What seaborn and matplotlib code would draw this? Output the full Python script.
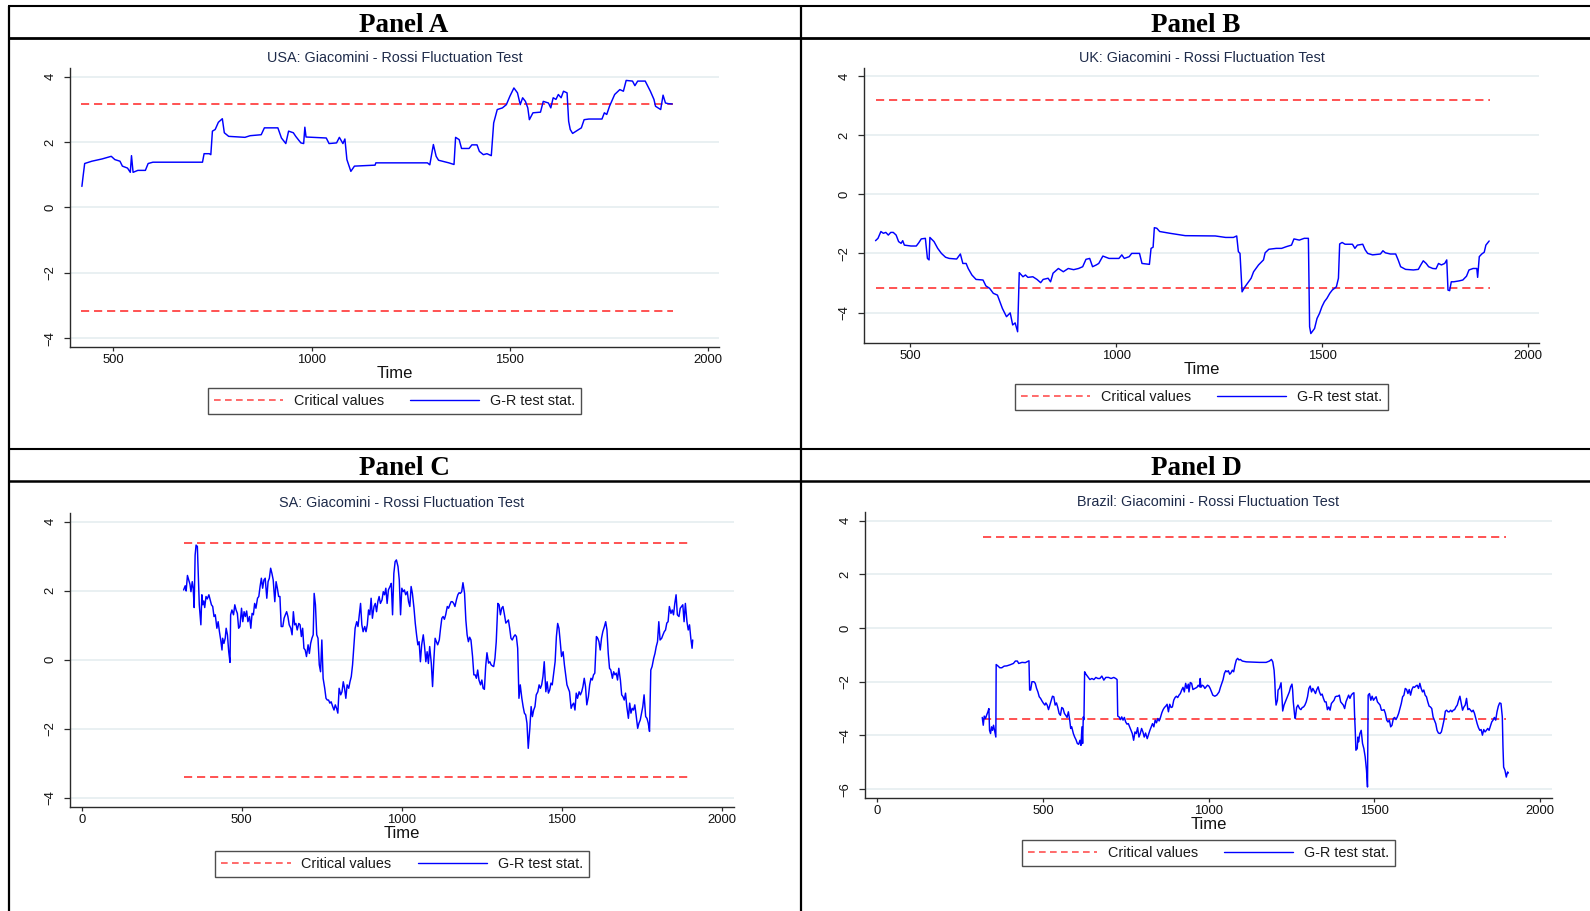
import matplotlib
matplotlib.use("Agg")
import matplotlib.pyplot as plt
from matplotlib.lines import Line2D
import pandas as pd
import seaborn as sns

# ---------------------------------------------------------------------------
# Giacomini-Rossi fluctuation test statistics (time index, statistic)
# ---------------------------------------------------------------------------
usa_path = [(421, 0.64), (424, 0.95), (428, 1.34), (446, 1.41), (472, 1.48), (495, 1.56), (504, 1.46),
            (517, 1.41), (523, 1.26), (536, 1.20), (543, 1.07), (546, 1.58), (550, 1.07), (562, 1.13),
            (581, 1.13), (588, 1.34), (600, 1.38), (725, 1.38), (729, 1.64), (742, 1.64), (746, 1.61),
            (750, 2.33), (757, 2.38), (765, 2.60), (775, 2.71), (780, 2.28), (791, 2.17), (832, 2.14),
            (845, 2.19), (873, 2.22), (881, 2.43), (915, 2.43), (924, 2.12), (935, 1.95), (942, 2.33),
            (954, 2.28), (960, 2.17), (973, 1.97), (980, 1.95), (983, 2.45), (986, 2.15), (1037, 2.12),
            (1044, 1.95), (1063, 1.97), (1070, 2.14), (1079, 1.95), (1084, 2.09), (1089, 1.46), (1099, 1.10),
            (1108, 1.26), (1160, 1.29), (1162, 1.36), (1292, 1.36), (1298, 1.30), (1307, 1.92), (1314, 1.56),
            (1320, 1.44), (1346, 1.36), (1359, 1.31), (1363, 2.14), (1372, 2.07), (1378, 1.80), (1397, 1.80),
            (1404, 1.91), (1417, 1.91), (1423, 1.71), (1433, 1.61), (1442, 1.64), (1453, 1.58), (1459, 2.58),
            (1468, 2.99), (1481, 3.04), (1491, 3.14), (1500, 3.40), (1510, 3.65), (1519, 3.50), (1526, 3.14),
            (1532, 3.35), (1539, 3.24), (1545, 3.04), (1549, 2.68), (1558, 2.89), (1577, 2.91), (1584, 3.24),
            (1597, 3.19), (1603, 3.04), (1609, 3.35), (1616, 3.30), (1622, 3.45), (1629, 3.35), (1635, 3.55),
            (1644, 3.50), (1648, 2.63), (1652, 2.38), (1658, 2.26), (1667, 2.33), (1680, 2.43), (1687, 2.68),
            (1699, 2.70), (1732, 2.70), (1738, 2.89), (1744, 2.84), (1751, 3.09), (1764, 3.45), (1777, 3.60),
            (1786, 3.55), (1793, 3.88), (1809, 3.86), (1815, 3.72), (1822, 3.86), (1841, 3.86), (1854, 3.55),
            (1863, 3.30), (1867, 3.09), (1880, 2.99), (1886, 3.43), (1892, 3.19), (1899, 3.17), (1909, 3.16)]

uk_path = [(416, -1.57), (422, -1.49), (429, -1.26), (435, -1.32), (441, -1.29), (447, -1.38), (453, -1.29),
           (459, -1.29), (466, -1.38), (472, -1.60), (478, -1.66), (482, -1.57), (486, -1.72), (502, -1.75),
           (515, -1.75), (521, -1.64), (527, -1.51), (537, -1.49), (542, -2.17), (546, -2.22), (548, -1.46),
           (558, -1.60), (567, -1.83), (576, -2.00), (586, -2.13), (595, -2.17), (613, -2.19), (622, -2.02),
           (628, -2.34), (636, -2.34), (641, -2.51), (650, -2.73), (660, -2.88), (677, -2.90), (684, -3.10),
           (693, -3.18), (702, -3.35), (712, -3.41), (718, -3.63), (724, -3.86), (734, -4.14), (743, -4.01),
           (749, -4.42), (755, -4.35), (761, -4.65), (765, -2.65), (774, -2.79), (780, -2.73), (786, -2.81),
           (798, -2.79), (808, -2.88), (817, -2.99), (823, -2.88), (835, -2.84), (841, -2.96), (847, -2.67),
           (860, -2.51), (872, -2.62), (884, -2.51), (897, -2.55), (909, -2.51), (919, -2.45), (927, -2.20),
           (936, -2.17), (943, -2.45), (952, -2.39), (958, -2.34), (968, -2.09), (983, -2.17), (1007, -2.17),
           (1014, -2.05), (1020, -2.17), (1032, -2.11), (1038, -2.00), (1057, -2.00), (1063, -2.34),
           (1081, -2.37), (1085, -1.83), (1090, -1.79), (1093, -1.13), (1099, -1.15), (1106, -1.26),
           (1131, -1.32), (1168, -1.40), (1241, -1.41), (1266, -1.46), (1285, -1.46), (1293, -1.41),
           (1297, -1.94), (1301, -2.00), (1306, -3.30), (1313, -3.13), (1328, -2.84), (1334, -2.62),
           (1346, -2.39), (1358, -2.22), (1362, -1.98), (1371, -1.86), (1389, -1.83), (1402, -1.83),
           (1414, -1.77), (1426, -1.72), (1432, -1.51), (1445, -1.55), (1457, -1.49), (1467, -1.49),
           (1470, -4.48), (1473, -4.71), (1482, -4.54), (1488, -4.20), (1494, -4.03), (1500, -3.80),
           (1506, -3.63), (1512, -3.52), (1519, -3.35), (1525, -3.24), (1535, -3.13), (1540, -2.84),
           (1543, -1.68), (1549, -1.63), (1556, -1.69), (1574, -1.69), (1580, -1.83), (1586, -1.72),
           (1599, -1.69), (1605, -1.88), (1611, -2.00), (1623, -2.05), (1642, -2.02), (1648, -1.91),
           (1654, -1.98), (1666, -2.02), (1679, -2.02), (1685, -2.22), (1691, -2.45), (1703, -2.54),
           (1722, -2.56), (1734, -2.54), (1740, -2.39), (1746, -2.25), (1753, -2.34), (1759, -2.45),
           (1769, -2.51), (1777, -2.52), (1783, -2.34), (1790, -2.39), (1798, -2.34), (1803, -2.22),
           (1806, -3.24), (1810, -3.26), (1814, -2.96), (1820, -2.96), (1833, -2.93), (1842, -2.90),
           (1851, -2.77), (1857, -2.56), (1867, -2.51), (1876, -2.51), (1878, -2.81), (1882, -2.11),
           (1888, -2.02), (1894, -1.96), (1898, -1.72), (1906, -1.58)]

sa_path = [(318, 2.02), (323, 2.14), (326, 1.99), (330, 2.44), (334, 2.31), (338, 2.18), (341, 1.97),
           (345, 2.26), (348, 2.07), (351, 1.51), (354, 3.03), (357, 3.32), (361, 3.28), (364, 2.45),
           (367, 1.59), (372, 1.01), (375, 1.88), (378, 1.59), (381, 1.70), (384, 1.51), (388, 1.83),
           (392, 1.76), (397, 1.88), (401, 1.73), (405, 1.59), (409, 1.54), (413, 1.25), (417, 1.30),
           (422, 0.91), (426, 1.10), (430, 0.81), (434, 0.57), (438, 0.28), (440, 0.62), (444, 0.47),
           (448, 0.62), (451, 0.91), (455, 0.72), (459, 0.23), (463, -0.08), (465, 1.30), (469, 1.44),
           (474, 1.30), (478, 1.59), (482, 1.44), (486, 1.34), (490, 0.91), (494, 0.96), (499, 1.49),
           (503, 1.10), (507, 1.39), (511, 1.25), (515, 1.41), (519, 1.10), (524, 1.25), (528, 0.91),
           (532, 1.34), (536, 1.30), (540, 1.63), (544, 1.49), (549, 1.78), (553, 1.83), (557, 2.12),
           (561, 2.36), (565, 2.07), (569, 2.31), (573, 2.36), (578, 1.78), (582, 2.26), (586, 2.36),
           (590, 2.65), (594, 2.50), (598, 2.31), (603, 1.68), (607, 2.26), (611, 2.07), (615, 1.83),
           (619, 1.83), (623, 0.96), (628, 0.96), (632, 1.20), (636, 1.30), (640, 1.39), (644, 1.25),
           (648, 1.01), (653, 0.91), (657, 0.72), (661, 1.39), (665, 1.01), (669, 1.05), (673, 0.86),
           (678, 1.05), (682, 1.01), (686, 0.67), (690, 0.91), (694, 0.33), (698, 0.28), (702, 0.09),
           (707, 0.43), (711, 0.18), (715, 0.47), (719, 0.62), (723, 0.72), (726, 1.92), (730, 1.59),
           (734, 0.72), (738, 0.62), (742, -0.15), (746, -0.35), (750, 0.57), (754, -0.54), (759, -0.83),
           (763, -1.12), (767, -1.17), (771, -1.17), (775, -1.26), (779, -1.22), (784, -1.36), (788, -1.46),
           (792, -1.31), (796, -1.41), (800, -1.55), (804, -0.83), (809, -1.02), (813, -0.93), (817, -0.64),
           (821, -0.83), (825, -1.12), (829, -0.73), (834, -0.83), (838, -0.64), (842, -0.49), (846, -0.15),
           (850, 0.38), (854, 0.91), (859, 1.10), (863, 0.96), (867, 1.30), (871, 1.63), (875, 1.01),
           (879, 0.81), (884, 0.96), (888, 0.81), (892, 1.01), (896, 1.44), (900, 1.30), (904, 1.78),
           (908, 1.20), (913, 1.54), (917, 1.63), (921, 1.39), (925, 1.68), (929, 1.83), (933, 1.63),
           (938, 1.73), (942, 1.97), (946, 1.88), (950, 2.07), (954, 1.63), (958, 2.02), (963, 2.12),
           (967, 2.21), (971, 1.30), (975, 2.50), (979, 2.84), (983, 2.89), (988, 2.70), (992, 2.31),
           (996, 1.30), (1000, 2.07), (1004, 1.97), (1008, 2.02), (1012, 1.88), (1017, 1.97), (1021, 1.68),
           (1025, 1.54), (1029, 2.12), (1033, 1.92), (1038, 1.49), (1042, 1.05), (1046, 0.72), (1050, 0.43),
           (1054, 0.52), (1058, -0.06), (1062, 0.43), (1067, 0.72), (1071, 0.38), (1075, -0.06), (1079, 0.23),
           (1083, -0.11), (1087, 0.38), (1092, -0.10), (1096, -0.78), (1100, -0.01), (1104, 0.62),
           (1108, 0.52), (1112, 0.43), (1117, 0.57), (1121, 0.91), (1125, 1.20), (1129, 1.25), (1133, 1.17),
           (1137, 1.30), (1142, 1.54), (1146, 1.49), (1150, 1.59), (1154, 1.68), (1158, 1.68), (1162, 1.63),
           (1166, 1.54), (1171, 1.75), (1175, 1.88), (1179, 1.94), (1183, 1.92), (1187, 1.97), (1191, 2.23),
           (1196, 1.92), (1200, 1.15), (1204, 0.72), (1208, 0.52), (1212, 0.65), (1216, 0.57), (1221, 0.09),
           (1225, -0.44), (1229, -0.44), (1233, -0.54), (1237, -0.30), (1241, -0.59), (1246, -0.73),
           (1250, -0.59), (1254, -0.83), (1258, -0.86), (1262, -0.20), (1266, 0.20), (1271, -0.10),
           (1275, -0.06), (1279, -0.15), (1283, -0.18), (1287, -0.20), (1291, 0.04), (1295, 0.52),
           (1300, 1.63), (1304, 1.59), (1308, 1.30), (1312, 1.49), (1316, 1.54), (1320, 1.34), (1325, 1.06),
           (1329, 1.10), (1333, 1.15), (1337, 0.91), (1341, 0.62), (1345, 0.57), (1350, 0.67), (1354, 0.72),
           (1358, 0.67), (1362, 0.33), (1366, -1.12), (1370, -0.73), (1375, -1.12), (1379, -1.36),
           (1383, -1.55), (1387, -1.60), (1391, -1.84), (1395, -2.57), (1400, -1.99), (1404, -1.36),
           (1408, -1.65), (1412, -1.46), (1416, -1.36), (1420, -1.02), (1425, -0.93), (1429, -0.73),
           (1433, -0.83), (1437, -0.73), (1441, -0.49), (1445, -0.06), (1450, -0.93), (1454, -0.64),
           (1458, -0.97), (1462, -0.88), (1466, -0.68), (1470, -0.73), (1474, -0.44), (1479, -0.06),
           (1483, 0.67), (1487, 1.05), (1491, 0.91), (1495, 0.52), (1499, 0.09), (1504, 0.23), (1508, -0.15),
           (1512, -0.44), (1516, -0.73), (1520, -0.83), (1524, -0.93), (1529, -1.41), (1533, -1.31),
           (1537, -1.26), (1541, -1.46), (1545, -0.97), (1549, -1.12), (1554, -0.93), (1558, -1.02),
           (1562, -0.93), (1566, -0.78), (1570, -0.54), (1574, -0.78), (1578, -1.31), (1583, -1.07),
           (1587, -0.73), (1591, -0.54), (1595, -0.59), (1599, -0.44), (1603, -0.39), (1608, 0.67),
           (1612, 0.62), (1616, 0.52), (1620, 0.28), (1624, 0.62), (1628, 0.81), (1633, 0.96), (1637, 1.10),
           (1641, 0.86), (1645, 0.18), (1649, -0.25), (1653, -0.30), (1658, -0.54), (1662, -0.35),
           (1666, -0.44), (1670, -0.39), (1674, -0.59), (1678, -0.25), (1683, -0.59), (1687, -1.02),
           (1691, -1.07), (1695, -1.17), (1699, -0.97), (1703, -1.36), (1708, -1.70), (1712, -1.26),
           (1716, -1.55), (1720, -1.41), (1724, -1.46), (1728, -1.31), (1732, -1.60), (1737, -1.99),
           (1741, -1.84), (1745, -1.75), (1749, -1.55), (1753, -1.36), (1757, -1.02), (1762, -1.65),
           (1766, -1.70), (1770, -1.84), (1774, -2.08), (1778, -0.30), (1782, -0.20), (1787, 0.04),
           (1791, 0.18), (1795, 0.38), (1799, 0.52), (1803, 1.10), (1807, 0.57), (1812, 0.62), (1816, 0.72),
           (1820, 0.81), (1824, 0.86), (1828, 1.06), (1832, 1.10), (1836, 1.54), (1841, 1.34), (1845, 1.44),
           (1849, 1.30), (1853, 1.63), (1857, 1.88), (1861, 1.30), (1866, 1.25), (1870, 1.49), (1874, 1.54),
           (1878, 1.59), (1882, 1.10), (1886, 1.63), (1891, 1.10), (1895, 0.86), (1899, 1.01), (1903, 0.62),
           (1907, 0.33), (1909, 0.57)]

brazil_path = [(317, -3.33), (320, -3.62), (323, -3.28), (327, -3.37), (330, -3.25), (334, -3.12),
               (337, -3.00), (339, -3.81), (342, -3.93), (345, -3.68), (348, -3.81), (351, -3.62), (354, -3.81),
               (358, -4.06), (359, -1.36), (365, -1.42), (370, -1.48), (376, -1.48), (383, -1.42), (391, -1.41),
               (401, -1.37), (411, -1.32), (417, -1.23), (423, -1.23), (427, -1.32), (437, -1.28), (447, -1.29),
               (455, -1.24), (458, -1.22), (460, -2.31), (463, -2.31), (467, -2.00), (473, -2.00), (477, -2.06),
               (481, -2.25), (485, -2.38), (489, -2.56), (493, -2.62), (497, -2.71), (501, -2.79), (506, -2.87),
               (509, -2.79), (513, -2.87), (517, -3.04), (521, -2.87), (525, -2.69), (529, -2.54), (533, -2.56),
               (537, -2.87), (541, -2.79), (545, -2.96), (549, -3.18), (553, -3.25), (557, -2.96), (561, -3.00),
               (565, -3.18), (569, -3.25), (573, -3.33), (577, -3.12), (581, -3.43), (584, -3.74), (587, -3.68),
               (592, -3.93), (596, -4.06), (600, -4.16), (604, -4.30), (608, -4.33), (612, -4.18), (615, -4.37),
               (618, -3.68), (620, -4.30), (622, -3.31), (624, -3.41), (626, -1.63), (630, -1.72), (636, -1.82),
               (642, -1.92), (648, -1.88), (654, -1.92), (660, -1.84), (666, -1.88), (672, -1.88), (678, -1.79),
               (684, -1.94), (690, -1.84), (698, -1.84), (706, -1.88), (714, -1.84), (720, -1.88), (724, -1.92),
               (726, -3.28), (730, -3.31), (734, -3.41), (738, -3.31), (742, -3.43), (746, -3.33), (750, -3.50),
               (754, -3.58), (758, -3.56), (762, -3.68), (766, -3.81), (770, -3.93), (774, -4.18), (778, -3.87),
               (782, -3.93), (786, -3.71), (790, -4.06), (794, -3.93), (798, -3.74), (802, -3.87), (806, -4.06),
               (810, -3.91), (815, -4.12), (819, -3.96), (823, -3.81), (827, -3.68), (831, -3.56), (835, -3.68),
               (839, -3.43), (843, -3.53), (847, -3.37), (851, -3.46), (855, -3.33), (859, -3.16), (863, -3.04),
               (867, -2.96), (871, -2.91), (875, -2.84), (879, -3.12), (883, -2.84), (887, -2.96), (891, -2.94),
               (895, -2.69), (899, -2.59), (903, -2.54), (907, -2.59), (911, -2.50), (915, -2.44), (919, -2.31),
               (923, -2.21), (927, -2.38), (931, -2.06), (935, -2.25), (939, -2.09), (941, -2.38), (945, -2.03),
               (949, -2.06), (953, -2.29), (959, -2.25), (965, -2.21), (969, -2.13), (973, -2.19), (975, -1.88),
               (977, -2.21), (981, -2.13), (985, -2.16), (989, -2.25), (993, -2.19), (997, -2.13), (1001, -2.16),
               (1005, -2.25), (1009, -2.38), (1013, -2.50), (1019, -2.54), (1025, -2.50), (1032, -2.38),
               (1036, -2.21), (1040, -2.06), (1044, -1.92), (1048, -1.69), (1052, -1.59), (1056, -1.63),
               (1060, -1.59), (1064, -1.72), (1068, -1.67), (1072, -1.57), (1076, -1.63), (1080, -1.38),
               (1084, -1.19), (1088, -1.13), (1092, -1.19), (1096, -1.17), (1102, -1.23), (1114, -1.26),
               (1134, -1.27), (1154, -1.28), (1174, -1.28), (1184, -1.23), (1190, -1.17), (1194, -1.26),
               (1198, -1.57), (1200, -1.94), (1202, -2.56), (1204, -2.87), (1208, -2.69), (1210, -2.31),
               (1214, -2.25), (1219, -2.04), (1222, -2.62), (1224, -3.09), (1228, -2.87), (1232, -2.75),
               (1236, -2.62), (1240, -2.50), (1244, -2.38), (1248, -2.19), (1252, -2.09), (1254, -2.31),
               (1256, -2.75), (1258, -3.00), (1260, -3.25), (1262, -3.37), (1266, -2.96), (1270, -2.87),
               (1275, -3.00), (1279, -3.04), (1283, -2.96), (1287, -2.94), (1291, -2.87), (1295, -2.75),
               (1299, -2.56), (1303, -2.25), (1307, -2.16), (1311, -2.38), (1315, -2.25), (1319, -2.34),
               (1323, -2.44), (1327, -2.29), (1331, -2.19), (1335, -2.38), (1339, -2.50), (1343, -2.46),
               (1347, -2.62), (1351, -2.75), (1355, -2.75), (1359, -3.04), (1363, -2.94), (1367, -3.06),
               (1371, -2.81), (1375, -2.75), (1379, -2.69), (1383, -2.56), (1387, -2.54), (1391, -2.54),
               (1395, -2.50), (1399, -2.75), (1403, -2.81), (1407, -2.87), (1411, -3.00), (1415, -2.75),
               (1419, -2.62), (1423, -2.50), (1427, -2.62), (1431, -2.50), (1435, -2.44), (1439, -2.41),
               (1441, -3.25), (1443, -3.81), (1445, -4.55), (1449, -4.49), (1451, -4.06), (1453, -4.24),
               (1457, -3.93), (1461, -3.81), (1465, -4.30), (1469, -4.49), (1473, -4.80), (1477, -5.30),
               (1480, -5.92), (1482, -2.50), (1486, -2.44), (1490, -2.69), (1494, -2.54), (1498, -2.69),
               (1502, -2.62), (1506, -2.56), (1510, -2.75), (1514, -2.81), (1518, -2.87), (1522, -3.06),
               (1526, -3.06), (1530, -3.04), (1534, -3.18), (1538, -3.43), (1542, -3.50), (1546, -3.43),
               (1550, -3.68), (1554, -3.62), (1558, -3.37), (1562, -3.33), (1566, -3.41), (1570, -3.31),
               (1574, -3.18), (1578, -3.00), (1582, -2.81), (1586, -2.56), (1590, -2.50), (1594, -2.25),
               (1598, -2.29), (1602, -2.44), (1606, -2.29), (1610, -2.50), (1614, -2.29), (1618, -2.19),
               (1622, -2.21), (1626, -2.16), (1630, -2.13), (1634, -2.25), (1638, -2.06), (1642, -2.25),
               (1646, -2.38), (1650, -2.31), (1654, -2.50), (1658, -2.56), (1662, -2.75), (1666, -2.91),
               (1670, -2.94), (1674, -3.00), (1678, -3.31), (1682, -3.43), (1686, -3.56), (1690, -3.81),
               (1694, -3.91), (1699, -3.93), (1703, -3.87), (1707, -3.66), (1711, -3.43), (1715, -3.10),
               (1719, -3.06), (1723, -3.12), (1727, -3.12), (1731, -3.06), (1735, -3.12), (1739, -3.06),
               (1743, -3.04), (1747, -2.94), (1751, -2.87), (1755, -2.69), (1759, -2.54), (1763, -2.79),
               (1767, -3.06), (1771, -2.94), (1775, -2.87), (1779, -2.62), (1783, -3.04), (1787, -3.00),
               (1791, -3.06), (1795, -3.12), (1799, -3.06), (1803, -3.18), (1807, -3.37), (1811, -3.56),
               (1815, -3.71), (1819, -3.81), (1823, -3.78), (1827, -3.99), (1831, -3.78), (1835, -3.87),
               (1839, -3.81), (1843, -3.74), (1847, -3.81), (1851, -3.66), (1855, -3.50), (1859, -3.43),
               (1863, -3.33), (1867, -3.43), (1871, -3.12), (1875, -2.91), (1879, -2.79), (1883, -2.81),
               (1887, -3.31), (1889, -4.43), (1891, -5.18), (1895, -5.30), (1899, -5.55), (1903, -5.36),
               (1905, -5.40)]

# Critical values (+/-) and the time span they cover
critical_values = {"USA": 3.17, "UK": 3.18, "SA": 3.39, "Brazil": 3.40}
critical_span = {"USA": (418, 1911), "UK": (416, 1909), "SA": (319, 1901), "Brazil": (318, 1899)}

panel_names = ["Panel A", "Panel B", "Panel C", "Panel D"]
countries = ["USA", "UK", "SA", "Brazil"]
paths = {"USA": usa_path, "UK": uk_path, "SA": sa_path, "Brazil": brazil_path}
x_ticks = {"USA": [500, 1000, 1500, 2000], "UK": [500, 1000, 1500, 2000],
           "SA": [0, 500, 1000, 1500, 2000], "Brazil": [0, 500, 1000, 1500, 2000]}
y_ticks = {"USA": [-4, -2, 0, 2, 4], "UK": [-4, -2, 0, 2, 4],
           "SA": [-4, -2, 0, 2, 4], "Brazil": [-6, -4, -2, 0, 2, 4]}
legend_labels = ["Critical values", "G-R test stat."]

# ---------------------------------------------------------------------------
# Layout (pixel geometry of the 1590 x 911 canvas)
# ---------------------------------------------------------------------------
W, H = 1590, 911
layout = {
    "USA":    dict(box=(70, 68, 719, 347),  xlim=(391, 2027), ylim=(-4.27, 4.26), leg=54),
    "UK":     dict(box=(864, 68, 1539, 343), xlim=(388, 2027), ylim=(-5.03, 4.27), leg=54),
    "SA":     dict(box=(70, 513, 734, 807), xlim=(-37, 2038), ylim=(-4.27, 4.25), leg=57),
    "Brazil": dict(box=(865, 512, 1552, 798), xlim=(-37, 2037), ylim=(-6.33, 4.32), leg=55),
}
header_pos = [(404, 32.3), (1196, 32.3), (404, 475.5), (1196, 475.5)]

RED = "#ff5252"
BLUE = "#0000ff"
GRID = "#e7eff1"
TITLE_C = "#1e2b4a"
AXIS_C = "#2a2a2a"

sns.set_theme(style="white")
plt.rcParams["font.family"] = ["Liberation Sans", "DejaVu Sans"]

fig = plt.figure(figsize=(W / 100, H / 100), dpi=100)
fig.patch.set_facecolor("white")


def rect(l, t, r, b):
    return [l / W, 1 - b / H, (r - l) / W, (b - t) / H]


def fig_line(x0, y0, x1, y1, lw):
    fig.add_artist(Line2D([x0 / W, x1 / W], [1 - y0 / H, 1 - y1 / H],
                          transform=fig.transFigure, color="black", lw=lw,
                          solid_capstyle="butt"))


# table rules framing the four panels
fig_line(8, 6, W, 6, 1.5)
fig_line(8, 37.5, W, 37.5, 2.0)
fig_line(8, 448.5, W, 448.5, 1.5)
fig_line(8, 481, W, 481, 1.8)
fig_line(8.5, 6, 8.5, H, 1.6)
fig_line(800.5, 6, 800.5, H, 1.6)

for name, (hx, hy) in zip(panel_names, header_pos):
    fig.text(hx / W, 1 - hy / H, name, ha="center", va="baseline", fontsize=19.5,
             fontweight="bold", family=["Liberation Serif", "DejaVu Serif"], color="black")

dash = (0, (4.2, 2.5))
for country in countries:
    lay = layout[country]
    l, t, r, b = lay["box"]
    ax = fig.add_axes(rect(l, t, r, b))
    ax.set_facecolor("white")

    ax.set_xlim(*lay["xlim"])
    ax.set_ylim(*lay["ylim"])
    ax.set_xticks(x_ticks[country])
    ax.set_yticks(y_ticks[country])
    ax.grid(axis="y", color=GRID, lw=1.3)
    ax.grid(axis="x", visible=False)
    ax.set_axisbelow(True)

    # critical bands
    c = critical_values[country]
    span = list(critical_span[country])
    ax.plot(span, [c, c], color=RED, lw=1.4, ls=dash, zorder=2)
    ax.plot(span, [-c, -c], color=RED, lw=1.4, ls=dash, zorder=2)

    # test statistic
    df = pd.DataFrame(paths[country], columns=["Time", "stat"])
    sns.lineplot(data=df, x="Time", y="stat", ax=ax, color=BLUE, lw=1.05,
                 estimator=None, sort=False, legend=False, zorder=3)

    for side in ("top", "right"):
        ax.spines[side].set_visible(False)
    for side in ("left", "bottom"):
        ax.spines[side].set_color(AXIS_C)
        ax.spines[side].set_linewidth(1.0)

    ax.tick_params(axis="x", bottom=True, direction="out", length=3, width=0.9,
                   color=AXIS_C, labelsize=9.4, pad=2, labelcolor="#111111")
    ax.tick_params(axis="y", left=True, direction="out", length=4.5, width=0.9,
                   color=AXIS_C, labelsize=9.4, pad=5, labelcolor="#111111")
    for lab in ax.get_yticklabels():
        lab.set_rotation(90)
        lab.set_va("center")

    ax.set_xlabel("Time", fontsize=12, labelpad=0, color="#111111")
    ax.set_ylabel("")
    ax.set_title(f"{country}: Giacomini - Rossi Fluctuation Test", fontsize=10.4,
                 color=TITLE_C, pad=4)

    handles = [Line2D([], [], color=RED, lw=1.2, ls=(0, (4, 2.6))),
               Line2D([], [], color=BLUE, lw=1.0)]
    leg = ax.legend(handles, legend_labels, loc="center",
                    bbox_to_anchor=(0.5, -lay["leg"] / (b - t)), ncol=2, frameon=True,
                    fancybox=False, shadow=False, fontsize=10.4, handlelength=4.8,
                    handletextpad=0.75, columnspacing=1.8, borderpad=0.4,
                    borderaxespad=0)
    frame = leg.get_frame()
    frame.set_edgecolor("#222222")
    frame.set_linewidth(1.0)
    for txt in leg.get_texts():
        txt.set_color("#1a1a1a")

fig.savefig("out.png", dpi=100, facecolor="white")
